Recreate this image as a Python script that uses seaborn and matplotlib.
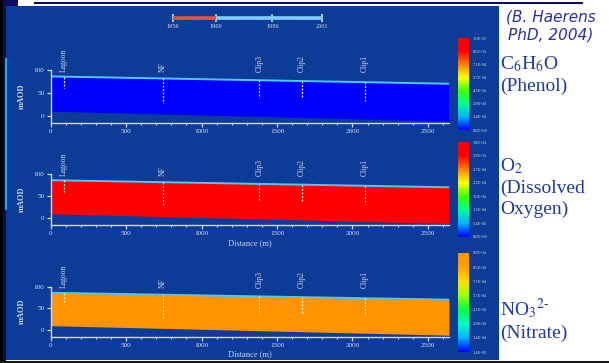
import numpy as np
import matplotlib
matplotlib.use('Agg')
import matplotlib.pyplot as plt
import seaborn as sns
from matplotlib.colors import LinearSegmentedColormap, Normalize
from matplotlib.cm import ScalarMappable
from matplotlib.ticker import MultipleLocator

sns.set_theme(style='white')
plt.rcParams['font.family'] = ['Liberation Serif', 'DejaVu Serif']
plt.rcParams['mathtext.fontset'] = 'stix'

# cross-section geometry (m, mAOD)
distance = [0, 2640]
water_table = [86, 70]
aquifer_base = [10, -12]

# observation wells
well_names = ['Lagoon', 'NF', 'Clip3', 'Clip2', 'Clip1']
well_x = [88, 744, 1383, 1666, 2083]
well_bottom = [60, 28, 38, 40, 32]

# simulated concentrations, one field per species
species_labels = ['C$_6$H$_6$O\n(Phenol)',
                  'O$_2$\n(Dissolved\nOxygen)',
                  'NO$_3$$^{2\u2010}$\n(Nitrate)']
concentration = [0.0, 3.8e-4, 9.9e-4]
cbar_min = [0.0, 0.0, 1.4e-5]
cbar_max = [1.0e-3, 3.8e-4, 9.9e-4]
cbar_labels = [
    ['0.0E+00', '1.4E-04', '2.9E-04', '4.3E-04', '5.7E-04', '7.1E-04', '8.6E-04', '1.0E-03'],
    ['0.0E+00', '5.4E-05', '1.1E-04', '1.6E-04', '2.2E-04', '2.7E-04', '3.3E-04', '3.8E-04'],
    ['1.4E-05', '1.4E-04', '2.9E-04', '4.3E-04', '5.7E-04', '7.1E-04', '8.5E-04', '9.9E-04'],
]
cmap_colors = [
    ['#0000ff', '#00b4ff', '#00ff90', '#40ff00', '#ffff00', '#ff8000', '#ff0000', '#ff0000'],
    ['#0000ff', '#00b4ff', '#00ff90', '#40ff00', '#ffff00', '#ff8000', '#ff0000', '#ff0000'],
    ['#0000ff', '#00b4ff', '#00ffc0', '#00ff40', '#a0ff00', '#ffe000', '#ffa000', '#ff9400'],
]

# simulation timeline
period_start = [1956, 1969]
period_end = [1969, 2001]
period_colors = ['#e8503a', '#80ccff']
milestone_years = [1956, 1969, 1986, 2001]

BG = '#0c3c98'
NAVY = '#0c0c5c'
LIGHT = '#d0d8ec'
CYAN = '#50c8f0'

W, H = 609, 363
fig = plt.figure(figsize=(W / 100, H / 100), dpi=100, facecolor='white')


def px_axes(x0, y0, x1, y1):
    # box in pixels, measured from the top-left corner
    return fig.add_axes([x0 / W, 1 - y1 / H, (x1 - x0) / W, (y1 - y0) / H])


def block(x0, y0, x1, y1, color):
    a = px_axes(x0, y0, x1, y1)
    a.set_facecolor(color)
    a.set_xticks([])
    a.set_yticks([])
    for s in a.spines.values():
        s.set_visible(False)
    return a


# slide frame
block(6, 6, 499, 360, BG)
block(0, 0, 18, 6, NAVY)
block(0, 0, 3, 363, 'black')
block(3, 6, 6, 363, NAVY)
block(34, 2, 583, 3.6, NAVY)
block(5, 58, 7, 210, '#18a8f0')
block(0, 360.5, 609, 363, '#151515')

# timeline
tl = px_axes(172.7, 10, 322.3, 25)
tl.set_facecolor('none')
for s, e, c in zip(period_start, period_end, period_colors):
    tl.plot([s, e], [0, 0], color=c, lw=2.6, solid_capstyle='butt', zorder=1)
tl.set_xlim(1956, 2001)
tl.set_ylim(-1, 1)
tl.set_yticks([])
for s in tl.spines.values():
    s.set_visible(False)
tl.spines['bottom'].set_position(('data', 0))
tl.set_xticks(milestone_years)
tl.xaxis.set_minor_locator(MultipleLocator(1))
tl.tick_params(axis='x', which='major', bottom=True, direction='inout', length=6, width=1.1,
               color='#e4ecc8', labelsize=4.6, labelcolor=LIGHT, pad=1.5)
tl.tick_params(axis='x', which='minor', bottom=True, direction='inout', length=1.2,
               width=1.0, color='white')

# cross-section panels: (top px of 100 m, bottom px of -15 m), colorbar (top, bottom)
panel_px = [(70, 122.6), (174, 224.9), (286.7, 336.5)]
cbar_px = [(38, 130), (142, 237), (253, 352)]
label_y = [54, 156, 296]

for i in range(3):
    top, bot = panel_px[i]
    ax = px_axes(50.7, top, 449, bot)
    ax.set_facecolor('none')
    cmap = LinearSegmentedColormap.from_list(f'plume{i}', cmap_colors[i])
    norm = Normalize(cbar_min[i], cbar_max[i])

    ax.fill_between(distance, aquifer_base, water_table,
                    color=cmap(norm(concentration[i])), lw=0)
    ax.plot(distance, water_table, color=CYAN, lw=1.4)

    for name, x, b in zip(well_names, well_x, well_bottom):
        t = np.interp(x, distance, water_table)
        ax.plot([x, x], [t, b], color='#f6f2d8', lw=0.9, ls=(0, (1.6, 1.2)))
        ax.text(x, 96, name, rotation=90, ha='center', va='bottom',
                fontsize=5.5, color=LIGHT, clip_on=False)

    ax.set_xlim(0, 2640)
    ax.set_ylim(-15, 100)
    ax.set_xticks([0, 500, 1000, 1500, 2000, 2500])
    ax.set_yticks([0, 50, 100])
    ax.xaxis.set_minor_locator(MultipleLocator(100))
    for s in ['top', 'right']:
        ax.spines[s].set_visible(False)
    for s in ['left', 'bottom']:
        ax.spines[s].set_color(LIGHT)
        ax.spines[s].set_linewidth(1.0)
    ax.tick_params(which='major', direction='out', length=3, width=0.9,
                   color=LIGHT, labelsize=5.2, labelcolor=LIGHT, pad=1.5)
    ax.tick_params(which='minor', direction='out', length=1.3, width=0.7, color=LIGHT)
    ax.tick_params(axis='x', which='both', bottom=True)
    ax.tick_params(axis='y', which='major', left=True)
    ax.set_ylabel('mAOD', fontsize=6, color=LIGHT, fontweight='bold', labelpad=6)
    if i > 0:
        ax.set_xlabel('Distance (m)', fontsize=6, color=LIGHT, labelpad=2)

    ct, cbm = cbar_px[i]
    cax = px_axes(458, ct, 469, cbm)
    cb = fig.colorbar(ScalarMappable(norm=norm, cmap=cmap), cax=cax)
    cb.set_ticks(np.linspace(cbar_min[i], cbar_max[i], 8))
    cb.set_ticklabels(cbar_labels[i])
    cb.ax.tick_params(length=0, labelsize=3.2, colors=LIGHT, pad=2.5)
    cb.outline.set_visible(False)

    fig.text(500 / W, 1 - label_y[i] / H, species_labels[i], ha='left', va='top',
             fontsize=14, color='#1e3c9e', linespacing=1.3)

fig.text(551 / W, 1 - 9 / H, '(B. Haerens\nPhD, 2004)', ha='center', va='top',
         fontsize=11, style='italic', family='DejaVu Sans', color='#2a30a4',
         linespacing=1.3)

fig.savefig('out.png', dpi=100, facecolor='white')
